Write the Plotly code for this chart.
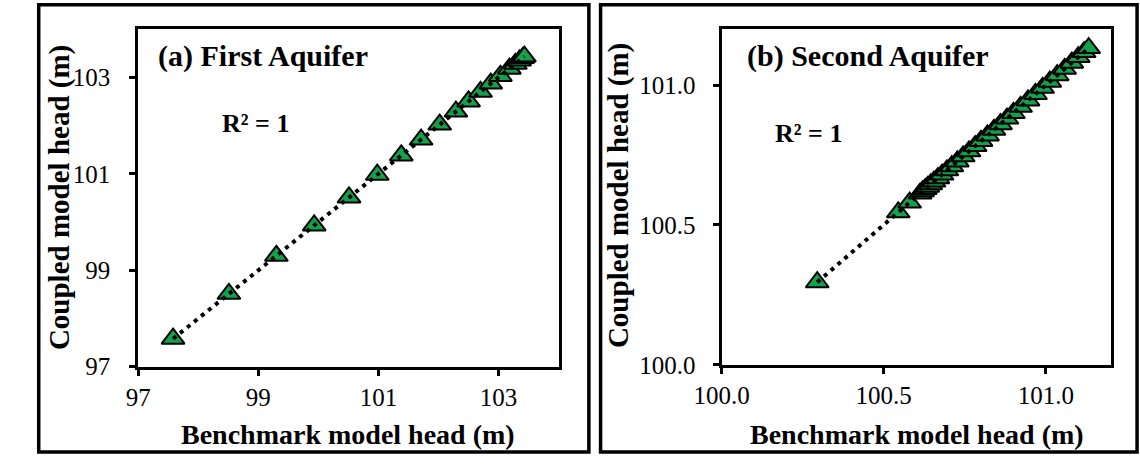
import plotly.graph_objects as go

W, H = 1140, 468

# ---- data ----
first_bench = [97.58, 98.51, 99.30, 99.93, 100.51, 100.98, 101.38, 101.71, 102.02,
               102.29, 102.50, 102.70, 102.87, 103.03, 103.18, 103.28, 103.35, 103.40, 103.43]
first_coupled = [97.58, 98.51, 99.30, 99.93, 100.51, 100.98, 101.38, 101.71, 102.02,
                 102.29, 102.50, 102.70, 102.87, 103.03, 103.18, 103.28, 103.35, 103.40, 103.43]

second_bench = [100.295, 100.545, 100.580, 100.612, 100.620, 100.628, 100.636, 100.645,
                100.655, 100.667, 100.680, 100.695, 100.710, 100.727, 100.745, 100.763,
                100.782, 100.800, 100.820, 100.840, 100.860, 100.880, 100.900, 100.922,
                100.945, 100.968, 100.990, 101.012, 101.035, 101.058, 101.080, 101.100,
                101.118, 101.132]
second_coupled = list(second_bench)

first_ticks = [97, 99, 101, 103]
first_ticktext = ["97", "99", "101", "103"]
second_ticks = [100.0, 100.5, 101.0]
second_ticktext = ["100.0", "100.5", "101.0"]

panel_titles = ["(a) First Aquifer", "(b) Second Aquifer"]
r2_text = "R² = 1"
x_title = "Benchmark model head (m)"
y_title = "Coupled model head (m)"

GREEN = "#12A24A"
FONT = "Liberation Serif, Times New Roman, serif"

def px(x):
    return x / W

def py(y):
    return 1 - y / H

fig = go.Figure()

def add_panel(xs, ys, xa, ya):
    fig.add_trace(go.Scatter(
        x=xs, y=ys, mode="markers", xaxis=xa, yaxis=ya, showlegend=False,
        marker=dict(symbol="triangle-up", size=20, color=GREEN,
                    line=dict(color="black", width=2)),
        hoverinfo="skip"))
    fig.add_trace(go.Scatter(
        x=[xs[0], xs[-1]], y=[ys[0], ys[-1]], mode="lines", xaxis=xa, yaxis=ya,
        showlegend=False, line=dict(color="black", width=4, dash="4px,5px"),
        hoverinfo="skip"))

add_panel(first_bench, first_coupled, "x", "y")
add_panel(second_bench, second_coupled, "x2", "y2")

axis_common = dict(
    showgrid=False, zeroline=False, showline=True, linecolor="black", linewidth=3,
    mirror=True, ticks="outside", ticklen=6, tickwidth=3, tickcolor="black",
    tickfont=dict(family=FONT, size=25, color="black"),
)

L = dict(x0=113, x1=544, y0=30, y1=378)
R = dict(x0=711, x1=1110, y0=30, y1=376)

fig.update_layout(
    width=W, height=H, margin=dict(l=0, r=0, t=0, b=0),
    paper_bgcolor="white", plot_bgcolor="white",
    xaxis=dict(domain=[px(L["x0"]), px(L["x1"])], range=[97, 104],
               tickvals=first_ticks, ticktext=first_ticktext, anchor="y", **axis_common),
    yaxis=dict(domain=[py(L["y1"]), py(L["y0"])], range=[97, 104],
               tickvals=first_ticks, ticktext=first_ticktext, anchor="x",
               ticklabelstandoff=14, **axis_common),
    xaxis2=dict(domain=[px(R["x0"]), px(R["x1"])], range=[100, 101.2],
                tickvals=second_ticks, ticktext=second_ticktext, anchor="y2", **axis_common),
    yaxis2=dict(domain=[py(R["y1"]), py(R["y0"])], range=[100, 101.2],
                tickvals=second_ticks, ticktext=second_ticktext, anchor="x2",
                ticklabelstandoff=12, **axis_common),
)

# outer panel frames
for x0, x1 in [(11, 575), (587, 1137)]:
    fig.add_shape(type="rect", xref="paper", yref="paper",
                  x0=px(x0), x1=px(x1), y0=py(466), y1=py(5),
                  line=dict(color="black", width=3.5), layer="above")

def ann(text, x, y, xanchor="left", angle=0, size=27):
    fig.add_annotation(text="<b>%s</b>" % text, xref="paper", yref="paper",
                       x=px(x), y=py(y), xanchor=xanchor, yanchor="middle",
                       textangle=angle, showarrow=False,
                       font=dict(family=FONT, size=size, color="black"))

ann(panel_titles[0], 131, 58, size=30)
ann(r2_text, 197, 127, size=26)
ann(panel_titles[1], 735, 58, size=30)
ann(r2_text, 764, 138, size=26)

ann(x_title, 328, 448, xanchor="center", size=28)
ann(x_title, 911, 448, xanchor="center", size=28)
ann(y_title, 33, 204, xanchor="center", angle=-90, size=29)
ann(y_title, 606, 202, xanchor="center", angle=-90, size=29)

fig.write_html("out.html")
